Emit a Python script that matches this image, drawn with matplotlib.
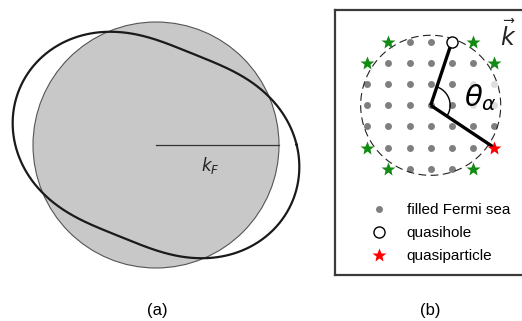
import numpy as np
import matplotlib
matplotlib.use("Agg")
import matplotlib.pyplot as plt

plt.rcParams['font.family'] = ['Liberation Sans', 'DejaVu Sans']

# panel (a): Fermi circle and deformed Fermi surface
k_F = 1.0
deform_eps = 0.2        # r = kF (1 + eps cos 2(theta - phi))
deform_phi = -22.0      # degrees

# panel (b): momentum grid (integer units)
grid_range = np.arange(-3, 4)
sea_cut = 10            # i^2 + j^2 <= sea_cut is filled
fermi_radius = 3.32
excited = [(-2, 3), (2, 3), (-3, 2), (3, 2), (-3, -2), (-2, -3), (2, -3)]
quasihole = (1, 3)
quasiparticle = (3, -2)
legend_labels = ["filled Fermi sea", "quasihole", "quasiparticle"]
panel_labels = ["(a)", "(b)"]

fig = plt.figure(figsize=(5.22, 3.21), dpi=100)
W, H = 522, 321

# ---- panel (a)
scale = 123.0  # px per kF
ax_a = fig.add_axes([0, (H - 290) / H, 312 / W, 290 / H])
ax_a.set_xlim(-156 / scale, 156 / scale)
ax_a.set_ylim(-145 / scale, 145 / scale)
ax_a.axis('off')

ax_a.add_patch(plt.Circle((0, 0), k_F, facecolor='#c8c8c8', edgecolor='#555555', lw=0.8))
th = np.linspace(0, 2 * np.pi, 600)
r = k_F * (1 + deform_eps * np.cos(2 * (th - np.radians(deform_phi))))
ax_a.plot(r * np.cos(th), r * np.sin(th), color='#1a1a1a', lw=1.6)
ax_a.plot([0, k_F], [0, 0], color='#333333', lw=0.9)
ax_a.text(0.44 * k_F, -0.17 * k_F, r'$k_F$', fontsize=12, ha='center', va='center', color='#222222')

# ---- panel (b)
unit = 21.1  # px per grid step
cx, cy = 430.7, 105.3
left, top, bottom, right = 335, 10, 275, 527
ax_b = fig.add_axes([left / W, (H - bottom) / H, (right - left) / W, (bottom - top) / H])
ax_b.set_xlim((left - cx) / unit, (right - cx) / unit)
ax_b.set_ylim(-(bottom - cy) / unit, (cy - top) / unit)
ax_b.set_xticks([])
ax_b.set_yticks([])
for s in ax_b.spines.values():
    s.set_linewidth(1.6)
    s.set_color('#3a3a3a')

ii, jj = np.meshgrid(grid_range, grid_range)
filled = (ii ** 2 + jj ** 2 <= sea_cut)
filled &= ~((ii == quasihole[0]) & (jj == quasihole[1]))
ax_b.plot(ii[filled], jj[filled], 'o', color='#7f7f7f', ms=5, mec='none', zorder=2)

tt = np.linspace(0, 2 * np.pi, 400)
ax_b.plot(fermi_radius * np.cos(tt), fermi_radius * np.sin(tt), color='#222222',
          lw=0.8, ls=(0, (7, 4)), zorder=2)

ex = np.array(excited)
ax_b.plot(ex[:, 0], ex[:, 1], '*', color='#138a13', ms=10, mec='none', zorder=3)

ax_b.text(2.35, 0.35, r'$\theta_\alpha$', fontsize=21, ha='center', va='center', zorder=4,
          bbox=dict(facecolor='white', alpha=0.75, edgecolor='none', pad=1))

# arrows to hole and particle, with angle arc
for p in (quasihole, quasiparticle):
    ax_b.plot([0, p[0]], [0, p[1]], color='black', lw=2.4, zorder=5, solid_capstyle='butt')
a1 = np.arctan2(quasiparticle[1], quasiparticle[0])
a2 = np.arctan2(quasihole[1], quasihole[0])
aa = np.linspace(a1, a2, 60)
ax_b.plot(0.92 * np.cos(aa), 0.92 * np.sin(aa), color='black', lw=1.0, zorder=5)

ax_b.plot(*quasihole, 'o', mfc='white', mec='black', ms=8, mew=1.0, zorder=6)
ax_b.plot(*quasiparticle, '*', color='red', ms=10, mec='none', zorder=6)

ax_b.text(3.66, 3.3, r'$\vec{k}$', fontsize=17, ha='center', va='center', color='#222222')

# legend
h_sea, = ax_b.plot([], [], 'o', color='#7f7f7f', ms=5, mec='none')
h_hole, = ax_b.plot([], [], 'o', mfc='white', mec='black', ms=8, mew=1.0)
h_part, = ax_b.plot([], [], '*', color='red', ms=10, mec='none')
ax_b.legend([h_sea, h_hole, h_part], legend_labels, loc='upper left',
            bbox_to_anchor=(0.15, 0.30), frameon=False, fontsize=11,
            handlelength=1.0, handletextpad=1.3, labelspacing=0.6, borderpad=0)

fig.text(157 / W, 1 - 310 / H, panel_labels[0], fontsize=12, ha='center', va='center')
fig.text(430 / W, 1 - 310 / H, panel_labels[1], fontsize=12, ha='center', va='center')

fig.savefig('out.png', dpi=100)
